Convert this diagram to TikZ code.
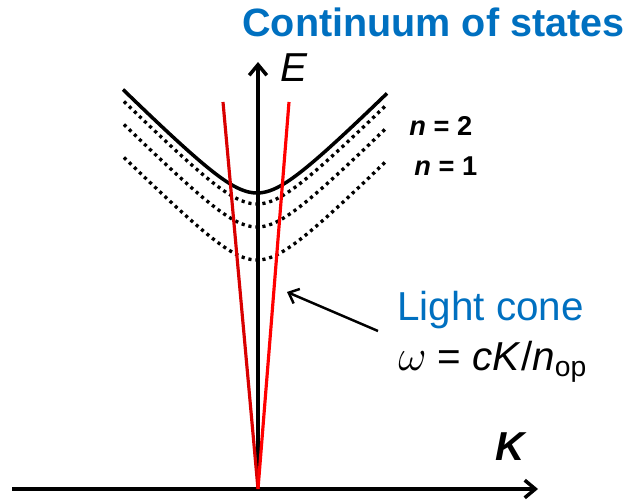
\documentclass[tikz,border=0pt]{standalone}
\usepackage{fontspec}
\setmainfont{Liberation Sans}
\usetikzlibrary{arrows.meta, positioning}
\definecolor{titleblue}{RGB}{0,112,192}

\begin{document}
\begin{tikzpicture}[x=0.02cm, y=-0.02cm,
    axis/.style={line width=2pt, -{Straight Barb[length=6pt, width=10pt]}},
    cone/.style={line width=1.8pt, red},
    band/.style={line width=2pt},
    dotband/.style={line width=1.9pt, dash pattern=on 1.8pt off 2.2pt},
    lbl/.style={inner sep=0pt, anchor=base west}]

    \useasboundingbox (0,0) rectangle (636,500);

    % axes
    \coordinate (O) at (258,489);
    \coordinate (Kmin) at (12,489);
    \coordinate (Kmax) at (538,489);
    \coordinate (Emax) at (258,62);
    \draw[axis] (Kmin) -- (Kmax);
    \draw[axis] (O) -- (Emax);

    % continuum edge and exciton levels
    \draw[band] plot[domain=-134:130, samples=80]
        ({257+\x}, {193-10*(sqrt(12.25+(\x/10)^2)-3.5)});
    \foreach \ymin in {204, 227, 260}
        \draw[dotband] plot[domain=-133:130, samples=80]
            ({257+\x}, {\ymin-10*(sqrt(12.25+(\x/10)^2)-3.5)});

    % light cone
    \coordinate (c1) at (223,102);
    \coordinate (c2) at (289,102);
    \draw[cone, red!85!black] (O) -- (c1);
    \draw[cone] (O) -- (c2);

    % labels
    \node[lbl, font=\bfseries\fontsize{22.5}{26}\selectfont, text=titleblue] (title) at (242,37) {Continuum of states};
    \node[lbl, font=\itshape\fontsize{23}{27}\selectfont] (E) at (280,82) {E};
    \node[lbl, font=\bfseries\itshape\fontsize{23}{27}\selectfont] (K) at (495,460) {K};
    \node[lbl, font=\bfseries\fontsize{15.5}{19}\selectfont] (n2) at (409,135) {\textit{n} = 2};
    \node[lbl, font=\bfseries\fontsize{15.5}{19}\selectfont] (n1) at (414,175) {\textit{n} = 1};
    \node[lbl, font=\fontsize{23}{27}\selectfont, text=titleblue] (cone) at (397,320) {Light cone};
    \node[lbl, font=\fontsize{23}{27}\selectfont] (disp) at (398,370) {$\omega$ = \textit{cK}/\textit{n}\textsubscript{op}};

    \coordinate (tail) at (378,331);
    \coordinate (tip) at (287,292);
    \draw[line width=1.4pt, -{Straight Barb[length=5pt, width=9pt]}] (tail) -- (tip);
\end{tikzpicture}
\end{document}
